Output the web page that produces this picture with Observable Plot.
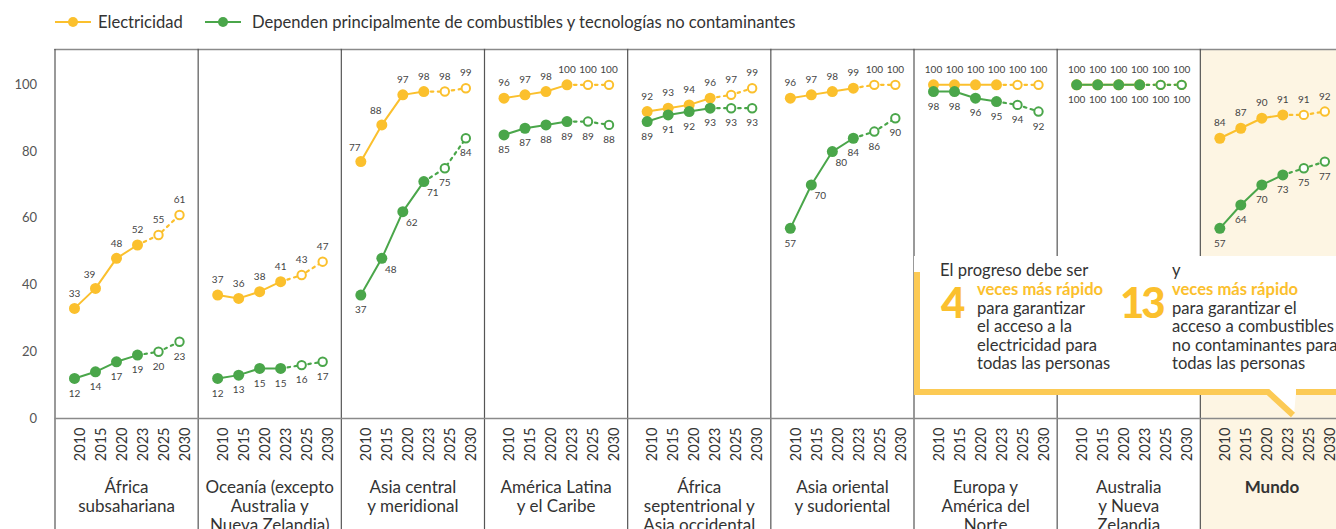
<!DOCTYPE html>
<html><head><meta charset="utf-8">
<script src="https://cdn.jsdelivr.net/npm/d3@7"></script>
<script src="https://cdn.jsdelivr.net/npm/@observablehq/plot@0.6"></script>
<style>
body{margin:0;background:#fff;overflow:hidden;font-family:Lato,"Noto Sans",sans-serif;color:#333;}
#wrap{position:relative;width:1336px;height:529px;overflow:hidden;}
#legend{position:relative;height:40px;font-size:16.6px;color:#333;}
.lg{position:absolute;top:12px;line-height:20px;}
.sym{position:absolute;top:13px;}
#overlay{position:absolute;left:0;top:0;pointer-events:none;}
.ct{position:absolute;font-size:16.6px;line-height:18.5px;color:#333;white-space:nowrap;}
.hl{color:#fbc02d;font-weight:700;}
.big{position:absolute;font-size:42px;font-weight:900;color:#fbc02d;line-height:42px;letter-spacing:-3px;}
</style></head><body>
<div id="wrap">
<div id="legend"></div>
<div id="chart"></div>
</div>
<script>
// ---- data ----
const years = ["2010", "2015", "2020", "2023", "2025", "2030"];
const projectedYears = ["2025", "2030"];
const regions = [
  "África subsahariana",
  "Oceanía (excepto Australia y Nueva Zelandia)",
  "Asia central y meridional",
  "América Latina y el Caribe",
  "África septentrional y Asia occidental",
  "Asia oriental y sudoriental",
  "Europa y América del Norte",
  "Australia y Nueva Zelandia",
  "Mundo"
];
const regionLabels = [
  "África\nsubsahariana",
  "Oceanía (excepto\nAustralia y\nNueva Zelandia)",
  "Asia central\ny meridional",
  "América Latina\ny el Caribe",
  "África\nseptentrional y\nAsia occidental",
  "Asia oriental\ny sudoriental",
  "Europa y\nAmérica del\nNorte",
  "Australia\ny Nueva\nZelandia",
  "Mundo"
];
const electricidad = [
  [33, 39, 48, 52, 55, 61],
  [37, 36, 38, 41, 43, 47],
  [77, 88, 97, 98, 98, 99],
  [96, 97, 98, 100, 100, 100],
  [92, 93, 94, 96, 97, 99],
  [96, 97, 98, 99, 100, 100],
  [100, 100, 100, 100, 100, 100],
  [100, 100, 100, 100, 100, 100],
  [84, 87, 90, 91, 91, 92]
];
const combustibles = [
  [12, 14, 17, 19, 20, 23],
  [12, 13, 15, 15, 16, 17],
  [37, 48, 62, 71, 75, 84],
  [85, 87, 88, 89, 89, 88],
  [89, 91, 92, 93, 93, 93],
  [57, 70, 80, 84, 86, 90],
  [98, 98, 96, 95, 94, 92],
  [100, 100, 100, 100, 100, 100],
  [57, 64, 70, 73, 75, 77]
];
const seriesNames = ["Electricidad", "Dependen principalmente de combustibles y tecnologías no contaminantes"];
const yTicks = [0, 20, 40, 60, 80, 100];

// ---- styles ----
const YELLOW = "#fbc02d", GREEN = "#4aa64a";
const colorOf = s => s === seriesNames[0] ? YELLOW : GREEN;

// ---- tidy table ----
const rows = [];
regions.forEach((r, i) => {
  [electricidad[i], combustibles[i]].forEach((vals, k) => {
    vals.forEach((v, j) => {
      const isE = k === 0;
      const steep = isE
        ? (j < vals.length - 1 && vals[j + 1] - v >= 9)
        : (j > 0 && j < vals.length - 1 && v - vals[j - 1] >= 9);
      rows.push({region: r, year: years[j], serie: seriesNames[k], value: v,
        proj: projectedYears.includes(years[j]), isE, steep});
    });
  });
});
const labelOf = new Map(regions.map((r, i) => [r, regionLabels[i]]));

const solid = rows.filter(d => !d.proj);
const dashed = rows.filter(d => d.year >= "2023");

const chart = Plot.plot({
  width: 1343, height: 500,
  marginLeft: 54.5, marginRight: 0, marginTop: 9, marginBottom: 122,
  style: {fontFamily: "Lato, 'Noto Sans', sans-serif", background: "transparent"},
  fx: {domain: regions, padding: 0, round: false, label: null},
  x: {type: "point", domain: years, padding: 0.76, label: null},
  y: {domain: [0, 110.6], label: null},
  marks: [
    Plot.rect([{region: "Mundo"}], {fx: "region", fill: "#fdf5e3", insetBottom: -130}),
    Plot.frame({anchor: "top", stroke: "#8a8a8a", strokeWidth: 1.6}),
    Plot.frame({anchor: "left", stroke: "#555", strokeWidth: 1.2, insetBottom: -130}),
    Plot.ruleY([0], {stroke: "#8a8a8a", strokeWidth: 1.6}),
    Plot.axisY({ticks: yTicks, tickSize: 0, tickPadding: 18, fontSize: 13, fill: "#555"}),
    Plot.axisX({anchor: "bottom", tickSize: 0, tickPadding: 9, rotate: -90, textAnchor: "end", fontSize: 14.5, fill: "#333", label: null}),
    Plot.axisFx({anchor: "bottom", ticks: regions.filter(r => r !== "Mundo"), tickSize: 0, tickPadding: 61,
      fontSize: 17, lineHeight: 1.12, fill: "#333", label: null, tickFormat: r => labelOf.get(r)}),
    Plot.axisFx({anchor: "bottom", ticks: ["Mundo"], tickSize: 0, tickPadding: 61,
      fontSize: 17, lineHeight: 1.12, fontWeight: "bold", fill: "#333", label: null, tickFormat: r => labelOf.get(r)}),
    Plot.line(solid, {fx: "region", x: "year", y: "value", z: "serie", stroke: d => colorOf(d.serie), strokeWidth: 2}),
    Plot.line(dashed, {fx: "region", x: "year", y: "value", z: "serie", stroke: d => colorOf(d.serie), strokeWidth: 2.2, strokeDasharray: "2.5,4.5"}),
    Plot.dot(rows.filter(d => !d.proj), {fx: "region", x: "year", y: "value", r: 5.5, fill: d => colorOf(d.serie), stroke: "none"}),
    Plot.dot(rows.filter(d => d.proj), {fx: "region", x: "year", y: "value", r: 4.2, fill: "white", stroke: d => colorOf(d.serie), strokeWidth: 2}),
    Plot.text(rows.filter(d => d.isE && !d.steep), {fx: "region", x: "year", y: "value", text: "value", dy: -15, fontSize: 10, fill: "#444"}),
    Plot.text(rows.filter(d => d.isE && d.steep), {fx: "region", x: "year", y: "value", text: "value", dy: -14, dx: -6, fontSize: 10, fill: "#444"}),
    Plot.text(rows.filter(d => !d.isE && !d.steep), {fx: "region", x: "year", y: "value", text: "value", dy: 15, fontSize: 10, fill: "#444"}),
    Plot.text(rows.filter(d => !d.isE && d.steep), {fx: "region", x: "year", y: "value", text: "value", dy: 11, dx: 9, fontSize: 10, fill: "#444"})
  ]
});
chart.style.display = "block";
chart.style.maxWidth = "none";
chart.style.overflow = "visible";
document.getElementById("chart").appendChild(chart);

// ---- legend ----
const legend = document.getElementById("legend");
const legendItems = [
  {name: seriesNames[0], color: YELLOW, symX: 55, textX: 98},
  {name: seriesNames[1], color: GREEN, symX: 205, textX: 252}
];
legendItems.forEach(it => {
  const s = document.createElementNS("http://www.w3.org/2000/svg", "svg");
  s.setAttribute("width", 38); s.setAttribute("height", 18); s.setAttribute("class", "sym");
  s.style.left = it.symX + "px";
  s.innerHTML = `<line x1="0" x2="36" y1="9" y2="9" stroke="${it.color}" stroke-width="2"/><circle cx="18" cy="9" r="5" fill="${it.color}"/>`;
  legend.appendChild(s);
  const t = document.createElement("div");
  t.className = "lg"; t.style.left = it.textX + "px"; t.textContent = it.name;
  legend.appendChild(t);
});

// ---- callout annotation ----
const wrap = document.getElementById("wrap");
const ov = document.createElementNS("http://www.w3.org/2000/svg", "svg");
ov.setAttribute("width", 1336); ov.setAttribute("height", 529); ov.id = "overlay";
ov.innerHTML = `
<path d="M914,256 H1340 V392 H1296 L1294,415 L1268,392 H914 Z" fill="#fff"/>
<path d="M917,272 V392 H1268 L1293,415" fill="none" stroke="#fcca55" stroke-width="6"/>
<path d="M1296,392 H1340" fill="none" stroke="#fcca55" stroke-width="6"/>`;
wrap.appendChild(ov);
const callTexts = [
  {x: 940, y: 261, html: "El progreso debe ser"},
  {x: 977, y: 280, html: '<span class="hl">veces más rápido</span><br>para garantizar<br>el acceso a la<br>electricidad para<br>todas las personas'},
  {x: 1172, y: 261, html: "y"},
  {x: 1172, y: 280, html: '<span class="hl">veces más rápido</span><br>para garantizar el<br>acceso a combustibles<br>no contaminantes para<br>todas las personas'}
];
callTexts.forEach(c => {
  const d = document.createElement("div");
  d.className = "ct"; d.style.left = c.x + "px"; d.style.top = c.y + "px"; d.innerHTML = c.html;
  wrap.appendChild(d);
});
[{x: 941, t: "4"}, {x: 1120, t: "13"}].forEach(b => {
  const d = document.createElement("div");
  d.className = "big"; d.style.left = b.x + "px"; d.style.top = "281px"; d.textContent = b.t;
  wrap.appendChild(d);
});
</script>
</body></html>
